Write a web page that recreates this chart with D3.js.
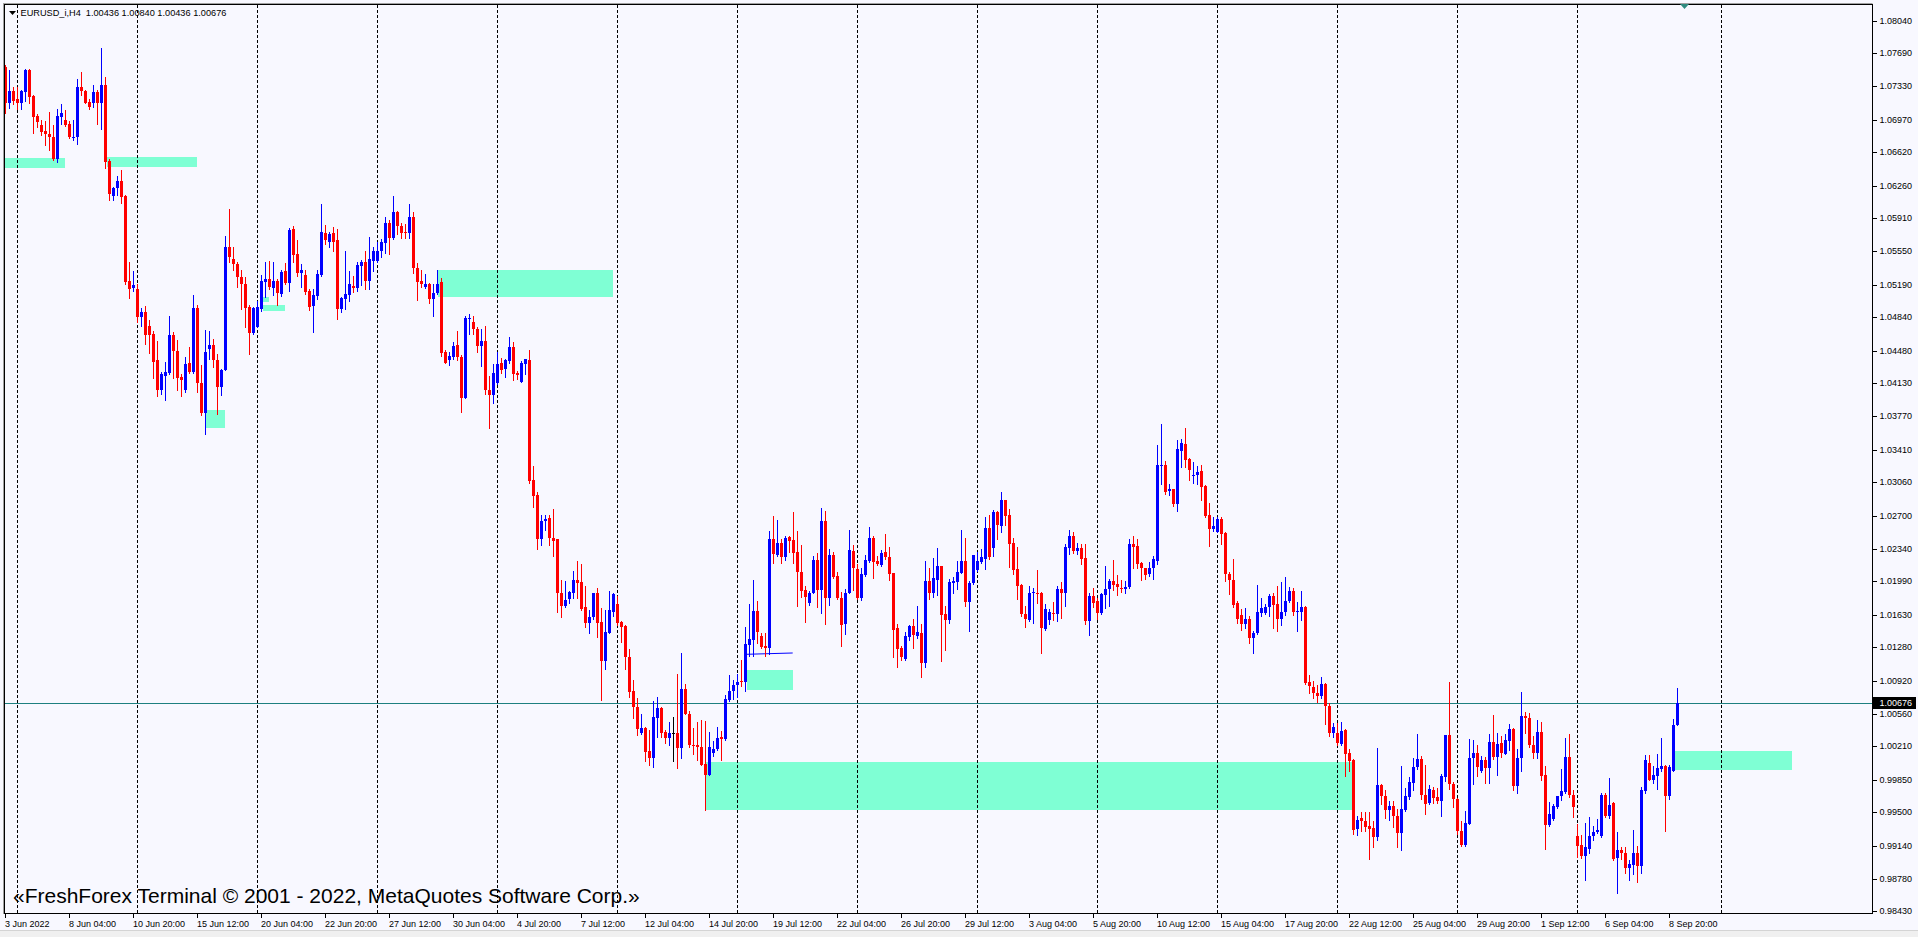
<!DOCTYPE html>
<html><head><meta charset="utf-8">
<script src="https://cdnjs.cloudflare.com/ajax/libs/d3/7.8.5/d3.min.js"></script>
<style>html,body{margin:0;padding:0;background:#F8F8FF;overflow:hidden}svg{display:block}</style>
</head><body><svg id="c" width="1918" height="937"></svg>
<script>
// ---- DATA (EURUSD_i, H4, bar 0 = 3 Jun 2022 12:00) ----
const open=[
1.0754,1.0715,1.0728,1.0720,1.0715,1.0727,1.0751,1.0723,1.0701,1.0691,
1.0685,1.0682,1.0679,1.0655,1.0700,1.0697,1.0692,1.0678,1.0679,1.0732,
1.0728,1.0716,1.0715,1.0727,1.0715,1.0735,1.0653,1.0615,1.0623,1.0631,
1.0615,1.0523,1.0516,1.0514,1.0484,1.0490,1.0475,1.0466,1.0438,1.0406,
1.0421,1.0424,1.0465,1.0448,1.0420,1.0405,1.0435,1.0425,1.0494,1.0413,
1.0381,1.0450,1.0454,1.0438,1.0409,1.0427,1.0560,1.0547,1.0541,1.0527,
1.0520,1.0495,1.0467,1.0473,1.0493,1.0522,1.0525,1.0516,1.0523,1.0509,
1.0534,1.0521,1.0579,1.0552,1.0532,1.0530,1.0512,1.0496,1.0507,1.0530,
1.0575,1.0565,1.0575,1.0567,1.0493,1.0504,1.0508,1.0518,1.0516,1.0539,
1.0544,1.0523,1.0545,1.0545,1.0556,1.0564,1.0586,1.0569,1.0598,1.0583,
1.0576,1.0575,1.0592,1.0537,1.0523,1.0517,1.0520,1.0504,1.0510,1.0522,
1.0446,1.0438,1.0441,1.0454,1.0441,1.0397,1.0482,1.0479,1.0471,1.0453,
1.0458,1.0406,1.0400,1.0413,1.0435,1.0428,1.0437,1.0452,1.0424,1.0414,
1.0434,1.0438,1.0308,1.0292,1.0245,1.0264,1.0267,1.0246,1.0245,1.0187,
1.0172,1.0180,1.0187,1.0201,1.0198,1.0171,1.0154,1.0161,1.0187,1.0155,
1.0113,1.0143,1.0166,1.0175,1.0155,1.0151,1.0118,1.0081,1.0064,1.0035,
1.0041,1.0016,1.0009,1.0052,1.0062,1.0037,1.0030,1.0036,1.0036,1.0019,
1.0083,1.0056,1.0023,1.0023,1.0020,1.0002,0.9990,1.0014,1.0018,1.0031,
1.0029,1.0071,1.0081,1.0087,1.0092,1.0090,1.0130,1.0136,1.0167,1.0140,
1.0129,1.0127,1.0245,1.0228,1.0240,1.0225,1.0247,1.0244,1.0231,1.0209,
1.0190,1.0176,1.0187,1.0222,1.0190,1.0264,1.0181,1.0227,1.0205,1.0181,
1.0153,1.0187,1.0232,1.0212,1.0181,1.0206,1.0221,1.0246,1.0221,1.0217,
1.0231,1.0225,1.0208,1.0149,1.0127,1.0115,1.0139,1.0151,1.0140,1.0143,
1.0111,1.0200,1.0187,1.0201,1.0216,1.0164,1.0157,1.0197,1.0198,1.0208,
1.0221,1.0177,1.0197,1.0211,1.0220,1.0223,1.0257,1.0235,1.0274,1.0259,
1.0287,1.0271,1.0240,1.0212,1.0195,1.0164,1.0157,1.0186,1.0187,1.0187,
1.0148,1.0157,1.0165,1.0164,1.0191,1.0187,1.0235,1.0248,1.0232,1.0235,
1.0224,1.0156,1.0183,1.0178,1.0165,1.0184,1.0191,1.0199,1.0196,1.0192,
1.0191,1.0193,1.0239,1.0237,1.0219,1.0213,1.0207,1.0213,1.0221,1.0323,
1.0325,1.0297,1.0299,1.0283,1.0340,1.0347,1.0331,1.0313,1.0314,1.0318,
1.0302,1.0271,1.0256,1.0252,1.0266,1.0251,1.0207,1.0201,1.0176,1.0163,
1.0153,1.0159,1.0138,1.0143,1.0165,1.0165,1.0171,1.0183,1.0175,1.0158,
1.0166,1.0178,1.0189,1.0166,1.0166,1.0171,1.0091,1.0085,1.0079,1.0075,
1.0088,1.0065,1.0036,1.0036,1.0024,1.0039,1.0014,1.0006,0.9932,0.9944,
0.9940,0.9935,0.9933,0.9923,0.9979,0.9967,0.9952,0.9957,0.9946,0.9928,
0.9952,0.9966,0.9982,0.9999,1.0007,0.9969,0.9960,0.9974,0.9966,0.9962,
0.9988,1.0033,0.9980,0.9964,0.9930,0.9915,0.9937,1.0009,1.0014,0.9994,
1.0006,0.9998,1.0026,1.0010,1.0025,1.0013,1.0027,1.0040,0.9978,1.0009,
1.0054,1.0052,1.0023,1.0014,1.0037,0.9990,0.9936,0.9943,0.9956,0.9967,
0.9972,1.0010,0.9969,0.9924,0.9915,0.9903,0.9910,0.9924,0.9929,0.9924,
0.9969,0.9946,0.9960,0.9901,0.9909,0.9906,0.9890,0.9893,0.9906,0.9892,
0.9973,1.0003,0.9985,0.9989,0.9997,1.0000,0.9968,0.9995,1.00436];
const high=[
1.0756,1.0751,1.0732,1.0732,1.0729,1.0752,1.0752,1.0724,1.0703,1.0697,
1.0696,1.0706,1.0691,1.0709,1.0714,1.0708,1.0696,1.0697,1.0741,1.0749,
1.0729,1.0720,1.0735,1.0729,1.0775,1.0743,1.0655,1.0625,1.0636,1.0643,
1.0616,1.0544,1.0534,1.0520,1.0494,1.0496,1.0481,1.0469,1.0458,1.0425,
1.0436,1.0485,1.0468,1.0460,1.0423,1.0441,1.0452,1.0508,1.0497,1.0432,
1.0470,1.0469,1.0461,1.0444,1.0428,1.0572,1.0601,1.0560,1.0544,1.0535,
1.0527,1.0497,1.0495,1.0502,1.0530,1.0544,1.0545,1.0544,1.0525,1.0535,
1.0543,1.0580,1.0582,1.0567,1.0541,1.0535,1.0515,1.0515,1.0535,1.0606,
1.0584,1.0576,1.0581,1.0579,1.0506,1.0555,1.0534,1.0528,1.0544,1.0546,
1.0555,1.0571,1.0560,1.0565,1.0568,1.0592,1.0589,1.0615,1.0599,1.0586,
1.0585,1.0606,1.0598,1.0543,1.0535,1.0531,1.0521,1.0520,1.0535,1.0526,
1.0449,1.0447,1.0457,1.0469,1.0443,1.0485,1.0488,1.0485,1.0473,1.0471,
1.0475,1.0421,1.0434,1.0446,1.0440,1.0439,1.0463,1.0457,1.0426,1.0437,
1.0439,1.0449,1.0324,1.0295,1.0271,1.0271,1.0271,1.0277,1.0245,1.0201,
1.0199,1.0189,1.0210,1.0221,1.0218,1.0194,1.0168,1.0187,1.0192,1.0170,
1.0168,1.0189,1.0186,1.0183,1.0156,1.0152,1.0126,1.0093,1.0073,1.0056,
1.0042,1.0039,1.0070,1.0074,1.0064,1.0039,1.0047,1.0053,1.0099,1.0122,
1.0088,1.0059,1.0041,1.0047,1.0050,1.0048,1.0037,1.0027,1.0042,1.0038,
1.0077,1.0098,1.0093,1.0099,1.0114,1.0150,1.0175,1.0201,1.0178,1.0143,
1.0143,1.0253,1.0270,1.0265,1.0245,1.0248,1.0248,1.0274,1.0253,1.0238,
1.0194,1.0189,1.0226,1.0230,1.0278,1.0275,1.0234,1.0231,1.0209,1.0188,
1.0191,1.0255,1.0238,1.0218,1.0214,1.0228,1.0258,1.0248,1.0226,1.0233,
1.0250,1.0236,1.0208,1.0153,1.0129,1.0144,1.0152,1.0159,1.0173,1.0153,
1.0221,1.0213,1.0224,1.0235,1.0216,1.0173,1.0202,1.0204,1.0221,1.0254,
1.0246,1.0199,1.0228,1.0231,1.0234,1.0268,1.0271,1.0276,1.0275,1.0295,
1.0287,1.0277,1.0246,1.0236,1.0196,1.0172,1.0194,1.0192,1.0211,1.0188,
1.0175,1.0169,1.0177,1.0194,1.0198,1.0239,1.0254,1.0252,1.0240,1.0239,
1.0239,1.0187,1.0192,1.0181,1.0187,1.0216,1.0202,1.0222,1.0206,1.0201,
1.0199,1.0245,1.0248,1.0245,1.0220,1.0214,1.0220,1.0226,1.0346,1.0369,
1.0329,1.0304,1.0299,1.0352,1.0353,1.0365,1.0332,1.0328,1.0323,1.0325,
1.0303,1.0284,1.0269,1.0269,1.0269,1.0252,1.0209,1.0223,1.0178,1.0169,
1.0170,1.0162,1.0145,1.0195,1.0181,1.0175,1.0185,1.0186,1.0194,1.0198,
1.0204,1.0193,1.0192,1.0177,1.0189,1.0172,1.0098,1.0092,1.0087,1.0096,
1.0089,1.0068,1.0046,1.0046,1.0047,1.0040,1.0018,1.0007,0.9946,0.9950,
0.9950,0.9950,0.9941,1.0019,0.9980,0.9974,0.9962,0.9962,0.9954,1.0000,
0.9976,0.9988,1.0009,1.0034,1.0011,1.0001,0.9979,0.9977,0.9976,0.9991,
1.0033,1.0090,0.9983,0.9965,0.9940,0.9951,1.0029,1.0028,1.0022,1.0011,
1.0010,1.0034,1.0055,1.0035,1.0032,1.0034,1.0045,1.0041,1.0018,1.0080,
1.0058,1.0057,1.0032,1.0049,1.0047,1.0000,0.9961,0.9959,0.9968,0.9997,
1.0030,1.0034,0.9974,0.9937,0.9925,0.9938,0.9945,0.9935,0.9943,0.9971,
0.9971,0.9987,0.9961,0.9929,0.9913,0.9913,0.9898,0.9931,0.9914,0.9977,
1.0012,1.0012,1.0000,1.0013,1.0030,1.0001,1.0001,1.0051,1.00840];
const low=[
1.0704,1.0710,1.0714,1.0709,1.0709,1.0717,1.0715,1.0683,1.0689,1.0681,
1.0670,1.0664,1.0654,1.0652,1.0692,1.0690,1.0677,1.0675,1.0671,1.0724,
1.0715,1.0709,1.0711,1.0693,1.0687,1.0645,1.0610,1.0611,1.0616,1.0607,
1.0520,1.0505,1.0512,1.0479,1.0475,1.0455,1.0445,1.0418,1.0399,1.0401,
1.0395,1.0423,1.0419,1.0406,1.0399,1.0403,1.0424,1.0424,1.0403,1.0379,
1.0358,1.0439,1.0430,1.0380,1.0400,1.0427,1.0544,1.0535,1.0517,1.0493,
1.0473,1.0444,1.0466,1.0473,1.0491,1.0506,1.0514,1.0508,1.0497,1.0507,
1.0520,1.0512,1.0544,1.0528,1.0517,1.0509,1.0492,1.0468,1.0504,1.0529,
1.0563,1.0560,1.0556,1.0482,1.0490,1.0493,1.0502,1.0511,1.0512,1.0519,
1.0514,1.0515,1.0534,1.0544,1.0549,1.0553,1.0552,1.0568,1.0574,1.0570,
1.0570,1.0570,1.0532,1.0503,1.0517,1.0516,1.0499,1.0485,1.0509,1.0442,
1.0435,1.0432,1.0439,1.0438,1.0382,1.0397,1.0466,1.0466,1.0447,1.0431,
1.0401,1.0365,1.0392,1.0412,1.0424,1.0420,1.0435,1.0416,1.0417,1.0414,
1.0423,1.0305,1.0279,1.0234,1.0238,1.0254,1.0238,1.0226,1.0166,1.0161,
1.0171,1.0176,1.0181,1.0181,1.0168,1.0150,1.0143,1.0159,1.0139,1.0071,
1.0105,1.0143,1.0162,1.0152,1.0134,1.0105,1.0074,1.0052,1.0033,1.0034,
1.0005,1.0001,0.9999,1.0031,1.0031,1.0025,1.0022,1.0005,0.9998,1.0008,
1.0056,1.0020,1.0013,1.0006,1.0001,0.9952,0.9990,1.0011,1.0017,1.0006,
1.0028,1.0070,1.0072,1.0074,1.0086,1.0081,1.0119,1.0119,1.0133,1.0127,
1.0119,1.0121,1.0219,1.0226,1.0219,1.0222,1.0231,1.0219,1.0173,1.0182,
1.0155,1.0174,1.0186,1.0171,1.0165,1.0153,1.0174,1.0203,1.0180,1.0129,
1.0142,1.0187,1.0190,1.0180,1.0179,1.0205,1.0220,1.0203,1.0217,1.0216,
1.0223,1.0201,1.0117,1.0107,1.0114,1.0114,1.0136,1.0127,1.0138,1.0096,
1.0107,1.0180,1.0182,1.0184,1.0113,1.0125,1.0154,1.0187,1.0191,1.0208,
1.0173,1.0145,1.0196,1.0210,1.0219,1.0212,1.0223,1.0226,1.0245,1.0252,
1.0260,1.0215,1.0207,1.0180,1.0162,1.0150,1.0156,1.0154,1.0176,1.0122,
1.0147,1.0153,1.0157,1.0156,1.0160,1.0172,1.0229,1.0230,1.0229,1.0218,
1.0153,1.0141,1.0171,1.0158,1.0164,1.0170,1.0172,1.0190,1.0184,1.0188,
1.0187,1.0192,1.0214,1.0213,1.0201,1.0202,1.0205,1.0202,1.0218,1.0304,
1.0293,1.0292,1.0280,1.0275,1.0322,1.0322,1.0308,1.0305,1.0304,1.0287,
1.0268,1.0237,1.0253,1.0252,1.0239,1.0200,1.0185,1.0171,1.0154,1.0147,
1.0149,1.0133,1.0122,1.0142,1.0162,1.0164,1.0162,1.0149,1.0145,1.0152,
1.0163,1.0177,1.0163,1.0146,1.0157,1.0088,1.0079,1.0073,1.0069,1.0073,
1.0045,1.0032,1.0031,1.0023,1.0022,0.9989,0.9995,0.9926,0.9925,0.9930,
0.9930,0.9899,0.9913,0.9920,0.9959,0.9944,0.9942,0.9934,0.9913,0.9909,
0.9951,0.9964,0.9974,0.9997,0.9964,0.9948,0.9959,0.9960,0.9960,0.9946,
0.9984,0.9975,0.9956,0.9926,0.9914,0.9914,0.9937,0.9980,0.9989,0.9993,
0.9982,0.9982,1.0007,0.9990,1.0010,1.0013,1.0017,0.9974,0.9971,0.9995,
1.0035,1.0020,1.0009,1.0008,0.9985,0.9910,0.9935,0.9942,0.9955,0.9963,
0.9971,0.9966,0.9945,0.9902,0.9901,0.9877,0.9906,0.9920,0.9928,0.9923,
0.9945,0.9944,0.9898,0.9863,0.9899,0.9884,0.9877,0.9883,0.9875,0.9884,
0.9971,0.9985,0.9982,0.9975,0.9995,0.9930,0.9964,0.9995,1.00436];
const close=[
1.0715,1.0728,1.0717,1.0715,1.0728,1.0751,1.0722,1.0700,1.0695,1.0684,
1.0682,1.0679,1.0655,1.0701,1.0704,1.0691,1.0678,1.0679,1.0732,1.0728,
1.0715,1.0711,1.0727,1.0715,1.0735,1.0652,1.0617,1.0623,1.0631,1.0614,
1.0522,1.0515,1.0519,1.0484,1.0490,1.0465,1.0465,1.0436,1.0406,1.0423,
1.0425,1.0465,1.0448,1.0419,1.0416,1.0434,1.0425,1.0494,1.0413,1.0381,
1.0447,1.0454,1.0438,1.0409,1.0427,1.0560,1.0549,1.0541,1.0527,1.0520,
1.0494,1.0467,1.0494,1.0495,1.0523,1.0525,1.0517,1.0523,1.0510,1.0533,
1.0521,1.0578,1.0551,1.0532,1.0535,1.0511,1.0495,1.0508,1.0531,1.0576,
1.0567,1.0574,1.0565,1.0493,1.0505,1.0509,1.0520,1.0516,1.0540,1.0544,
1.0523,1.0547,1.0556,1.0556,1.0565,1.0586,1.0570,1.0598,1.0582,1.0575,
1.0575,1.0592,1.0537,1.0522,1.0520,1.0520,1.0504,1.0510,1.0520,1.0445,
1.0435,1.0442,1.0453,1.0441,1.0397,1.0483,1.0483,1.0471,1.0453,1.0458,
1.0406,1.0400,1.0424,1.0434,1.0427,1.0438,1.0452,1.0423,1.0422,1.0435,
1.0439,1.0307,1.0291,1.0245,1.0264,1.0266,1.0246,1.0243,1.0187,1.0172,
1.0179,1.0188,1.0201,1.0197,1.0169,1.0154,1.0161,1.0187,1.0154,1.0113,
1.0144,1.0168,1.0185,1.0154,1.0150,1.0117,1.0080,1.0063,1.0040,1.0041,
1.0015,1.0009,1.0053,1.0062,1.0036,1.0030,1.0036,1.0036,1.0019,1.0083,
1.0056,1.0022,1.0022,1.0020,1.0001,0.9990,1.0020,1.0018,1.0030,1.0029,
1.0072,1.0081,1.0087,1.0091,1.0090,1.0131,1.0137,1.0167,1.0144,1.0128,
1.0127,1.0245,1.0229,1.0240,1.0225,1.0246,1.0243,1.0230,1.0209,1.0189,
1.0182,1.0187,1.0222,1.0190,1.0264,1.0181,1.0228,1.0204,1.0181,1.0152,
1.0187,1.0233,1.0214,1.0181,1.0207,1.0222,1.0246,1.0220,1.0218,1.0230,
1.0225,1.0207,1.0147,1.0126,1.0118,1.0140,1.0151,1.0141,1.0144,1.0111,
1.0199,1.0187,1.0203,1.0216,1.0163,1.0157,1.0198,1.0199,1.0209,1.0221,
1.0177,1.0197,1.0227,1.0221,1.0225,1.0257,1.0225,1.0274,1.0260,1.0287,
1.0270,1.0239,1.0211,1.0194,1.0164,1.0158,1.0187,1.0188,1.0185,1.0149,
1.0169,1.0166,1.0164,1.0191,1.0187,1.0236,1.0248,1.0232,1.0235,1.0223,
1.0156,1.0183,1.0176,1.0165,1.0185,1.0191,1.0199,1.0195,1.0193,1.0191,
1.0193,1.0239,1.0236,1.0218,1.0213,1.0206,1.0214,1.0223,1.0325,1.0325,
1.0296,1.0299,1.0283,1.0342,1.0348,1.0330,1.0319,1.0314,1.0317,1.0301,
1.0270,1.0256,1.0259,1.0266,1.0250,1.0207,1.0201,1.0174,1.0158,1.0153,
1.0159,1.0138,1.0143,1.0166,1.0170,1.0171,1.0183,1.0174,1.0158,1.0166,
1.0178,1.0189,1.0166,1.0167,1.0171,1.0089,1.0086,1.0079,1.0075,1.0088,
1.0065,1.0036,1.0042,1.0025,1.0038,1.0013,1.0005,0.9931,0.9942,0.9940,
0.9934,0.9932,0.9923,0.9979,0.9967,0.9952,0.9957,0.9946,0.9928,0.9953,
0.9968,0.9983,0.9999,1.0007,0.9969,0.9959,0.9975,0.9965,0.9962,0.9989,
1.0033,0.9980,0.9964,0.9930,0.9915,0.9938,1.0009,1.0014,0.9999,1.0006,
0.9998,1.0026,1.0010,1.0024,1.0014,1.0028,1.0040,0.9978,1.0008,1.0054,
1.0052,1.0022,1.0014,1.0037,0.9989,0.9936,0.9948,0.9957,0.9967,0.9973,
1.0010,0.9969,0.9956,0.9914,0.9903,0.9912,0.9924,0.9929,0.9931,0.9969,
0.9946,0.9958,0.9900,0.9909,0.9906,0.9890,0.9894,0.9906,0.9892,0.9974,
1.0006,0.9985,0.9990,0.9998,1.0000,0.9968,0.9999,1.0044,1.00676];

const priceTicks=[1.08040,1.07690,1.07330,1.06970,1.06620,1.06260,1.05910,1.05550,1.05190,1.04840,
1.04480,1.04130,1.03770,1.03410,1.03060,1.02700,1.02340,1.01990,1.01630,1.01280,
1.00920,1.00560,1.00210,0.99850,0.99500,0.99140,0.98780,0.98430];
const dateLabels=["3 Jun 2022","8 Jun 04:00","10 Jun 20:00","15 Jun 12:00","20 Jun 04:00","22 Jun 20:00",
"27 Jun 12:00","30 Jun 04:00","4 Jul 20:00","7 Jul 12:00","12 Jul 04:00","14 Jul 20:00","19 Jul 12:00",
"22 Jul 04:00","26 Jul 20:00","29 Jul 12:00","3 Aug 04:00","5 Aug 20:00","10 Aug 12:00","15 Aug 04:00",
"17 Aug 20:00","22 Aug 12:00","25 Aug 04:00","29 Aug 20:00","1 Sep 12:00","6 Sep 04:00","8 Sep 20:00"];
const dateLabelBars=dateLabels.map((d,i)=>i*16);
const weekSeparators=[3,33,63,93,123,153,183,213,243,273,303,333,363,393,429];
// zones (bar positions, price top/bottom)
const zoneStart=[-1.5,25.3,108.05,64.4,64.3,50.05,185.3,175.1,417.4];
const zoneEnd=[14.9,47.9,151.9,65.9,69.9,54.9,196.8,336.55,446.6];
const zoneTop=[1.06558,1.06569,1.05350,1.05062,1.04972,1.03840,1.01034,1.00042,1.00160];
const zoneBottom=[1.06454,1.06461,1.05062,1.05008,1.04911,1.03649,1.00819,0.99524,0.99955];
const trendLineBars=[185.3,196.8];
const trendLinePrices=[1.01204,1.01218];
const lastPrice=1.00676;
const headerText="EURUSD_i,H4  1.00436 1.00840 1.00436 1.00676";
const footerText="\u00abFreshForex Terminal \u00a9 2001 - 2022, MetaQuotes Software Corp.\u00bb";

// ---- DRAW ----
const FONT="'Liberation Sans', Arial, sans-serif";
const svg=d3.select("#c");
const L=4.5,T=4.5,R=1872.5,B=913.5;
const x=d3.scaleLinear().domain([0,418]).range([5.5,1677.5]);
const y=d3.scaleLinear().domain([0.9843,1.0804]).range([911.4,20.67]);
const ry=v=>Math.round(y(v));

svg.append("rect").attr("width",1918).attr("height",937).attr("fill","#F8F8FF");
svg.append("rect").attr("x",0).attr("y",930).attr("width",1918).attr("height",7).attr("fill","#F0F0F0");
svg.append("line").attr("x1",0).attr("x2",1918).attr("y1",930.5).attr("y2",930.5).attr("stroke","#D4D4D4");
svg.append("line").attr("x1",3.5).attr("x2",3.5).attr("y1",3).attr("y2",914).attr("stroke","#A0A0A0");
svg.append("line").attr("x1",3).attr("x2",R).attr("y1",3.5).attr("y2",3.5).attr("stroke","#A0A0A0");

const defs=svg.append("defs");
defs.append("clipPath").attr("id","plot").append("rect").attr("x",5).attr("y",5).attr("width",R-5).attr("height",B-5);
const g=svg.append("g").attr("clip-path","url(#plot)").attr("shape-rendering","crispEdges");

// zones
g.selectAll("rect.zone").data(zoneStart).join("rect").attr("class","zone")
 .attr("x",(d,i)=>Math.round(x(d)))
 .attr("width",(d,i)=>Math.round(x(zoneEnd[i]))-Math.round(x(d)))
 .attr("y",(d,i)=>ry(zoneTop[i]))
 .attr("height",(d,i)=>ry(zoneBottom[i])-ry(zoneTop[i]))
 .attr("fill","#7FFFD4");

// week separators
g.selectAll("line.sep").data(weekSeparators).join("line").attr("class","sep")
 .attr("x1",d=>Math.round(x(d)-0.5)+0.5).attr("x2",d=>Math.round(x(d)-0.5)+0.5)
 .attr("y1",T).attr("y2",B).attr("stroke","#000").attr("stroke-width",1).attr("stroke-dasharray","3,2");

// bid line
const yb=ry(lastPrice)+0.5;
g.append("line").attr("x1",L).attr("x2",R).attr("y1",yb).attr("y2",yb).attr("stroke","#1E8080").attr("stroke-width",1);

// trend line
g.append("path").attr("d",d3.line()([[x(trendLineBars[0]),y(trendLinePrices[0])],[x(trendLineBars[1]),y(trendLinePrices[1])]]))
 .attr("stroke","#0000FF").attr("stroke-width",1).attr("fill","none").attr("shape-rendering","auto");

// candles
const idx=d3.range(open.length);
const col=i=>close[i]>open[i]?"#0000FF":(close[i]<open[i]?"#FF0000":"#000000");
const cg=g.selectAll("g.c").data(idx).join("g").attr("class","c");
cg.append("rect").attr("x",i=>x(i)-0.5).attr("width",1)
 .attr("y",i=>ry(high[i])).attr("height",i=>Math.max(1,ry(low[i])-ry(high[i])+1)).attr("fill",col);
cg.append("rect").attr("x",i=>x(i)-1.5).attr("width",3)
 .attr("y",i=>ry(Math.max(open[i],close[i])))
 .attr("height",i=>Math.max(1,ry(Math.min(open[i],close[i]))-ry(Math.max(open[i],close[i]))))
 .attr("fill",col);

// frame
svg.append("path").attr("d",`M${L},${B}V${T}H${R}V${B}Z`).attr("fill","none").attr("stroke","#000").attr("shape-rendering","crispEdges");

// price axis
const yAx=y.copy().interpolate(d3.interpolateRound);
const ya=svg.append("g").attr("transform",`translate(${R},0)`).attr("shape-rendering","crispEdges")
 .call(d3.axisRight(yAx).tickValues(priceTicks).tickFormat(d=>d.toFixed(5)).tickSize(4).tickSizeOuter(0).tickPadding(3).offset(0.5));
ya.select(".domain").remove();
ya.selectAll("text").attr("font-family",FONT).attr("font-size","9px").attr("fill","#000");
ya.selectAll("line").attr("stroke","#000");

// price label box
const pg=svg.append("g");
pg.append("rect").attr("x",1873).attr("y",yb-6.5).attr("width",43).attr("height",12).attr("fill","#000");
pg.append("text").attr("x",1879.5).attr("y",yb).attr("dy","0.32em").attr("font-family",FONT).attr("font-size","9px")
 .attr("fill","#fff").text(lastPrice.toFixed(5));

// time axis
const xa=svg.append("g").attr("transform",`translate(0,${B})`).attr("shape-rendering","crispEdges")
 .call(d3.axisBottom(x).tickValues(dateLabelBars).tickFormat((d,i)=>dateLabels[i]).tickSize(4).tickSizeOuter(0).tickPadding(3).offset(0));
xa.select(".domain").remove();
xa.selectAll("text").attr("font-family",FONT).attr("font-size","9px").attr("fill","#000").attr("text-anchor","start").attr("x",-0.5);
xa.selectAll("line").attr("stroke","#000");

// header
svg.append("path").attr("d","M9,11H16L12.5,15Z").attr("fill","#000");
svg.append("text").attr("x",20.5).attr("y",16).attr("font-family",FONT).attr("font-size","9.2px").attr("fill","#000")
 .attr("xml:space","preserve").style("white-space","pre").text(headerText);

// chart-shift marker
svg.append("path").attr("d","M1680,4H1689L1684.5,9Z").attr("fill","#2E8B80");

// footer
svg.append("text").attr("x",13).attr("y",903).attr("font-family",FONT).attr("font-size","21px").attr("fill","#000").text(footerText);
</script>
</body></html>
